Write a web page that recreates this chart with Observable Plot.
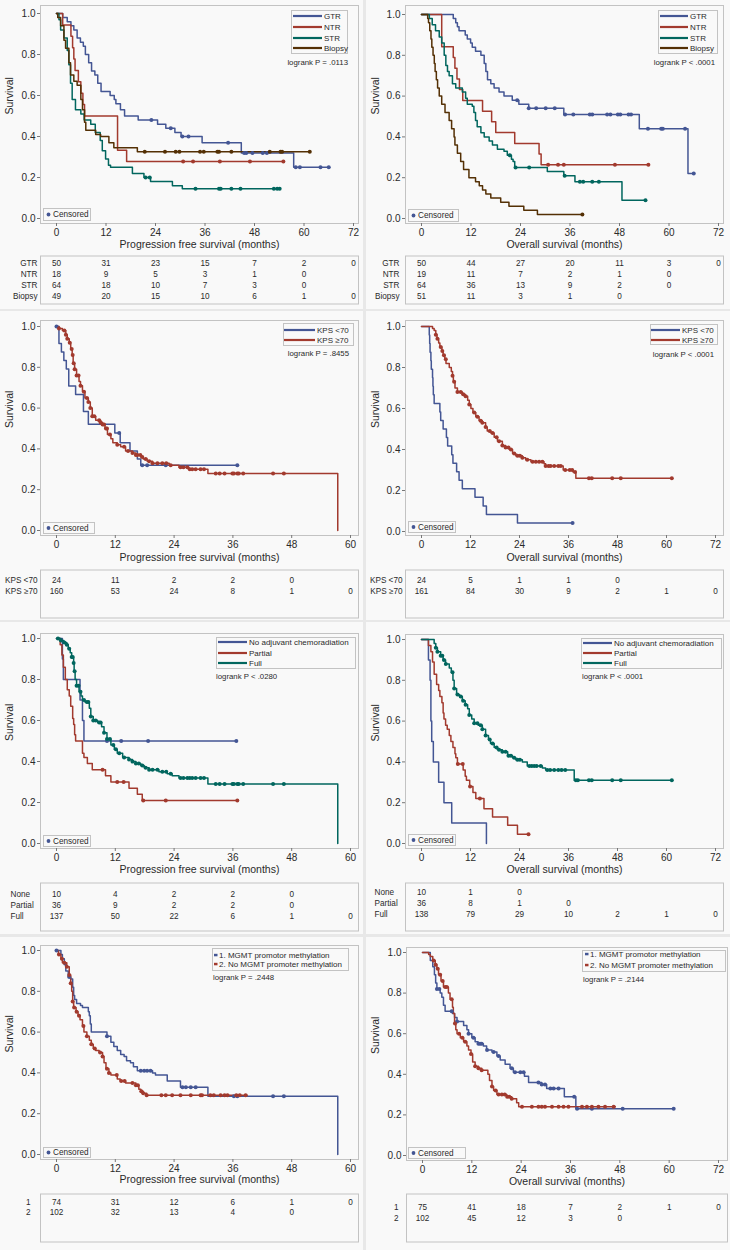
<!DOCTYPE html>
<html><head><meta charset="utf-8">
<script src="https://cdn.jsdelivr.net/npm/d3@7"></script>
<script src="https://cdn.jsdelivr.net/npm/@observablehq/plot@0.6"></script>
<style>
body{margin:0;background:#e8e8e8;font-family:"Liberation Sans",Arial,sans-serif;}
#root{position:relative;width:730px;height:1250px;overflow:hidden;}
#root svg{position:absolute;}
</style></head><body><div id="root"></div>
<script>
// ---------- tick / risk-table times ----------
const riskTimes72 = [0,12,24,36,48,60,72];
const riskTimes60 = [0,12,24,36,48,60];

// ---------- Panel 1: PFS by extent of resection ----------
const pfsResGTR = [[0,1],[1.5,.98],[2.6,.96],[3.5,.94],[4.2,.92],[5,.88],[5.8,.86],[6.5,.84],[7,.8],[7.8,.76],[8.5,.72],[9.3,.7],[10,.66],[10.8,.62],[13,.6],[14,.58],[14.4,.56],[15.5,.53],[16.5,.5],[19.8,.48],[24.5,.46],[26.5,.44],[28.7,.42],[30.2,.4],[35.3,.37],[44.8,.32],[57.5,.25],[66,.25]];
const pfsResGTRc = [23,27.7,30.5,32,41.6,45.5,46,47.5,50,51,58,59,64,66];
const pfsResNTR = [[0,1],[1.5,.944],[3.5,.889],[3.9,.833],[4.2,.778],[4.5,.722],[5.3,.667],[5.9,.611],[6.4,.556],[6.8,.5],[14.8,.333],[17,.278],[55,.278]];
const pfsResNTRc = [30.7,33.1,39.6,46.9,55];
const pfsResSTR = [[0,1],[.6,.97],[1,.92],[1.8,.88],[2.6,.82],[3,.75],[3.4,.66],[3.8,.58],[4.6,.53],[5.9,.51],[6.7,.48],[8.3,.46],[9.4,.42],[10.6,.38],[11.1,.33],[11.9,.29],[12.6,.26],[13.1,.25],[18.4,.22],[21.2,.2],[22.8,.18],[28.1,.16],[30.5,.145],[54.1,.145]];
const pfsResSTRc = [21.6,22.6,33.7,39.4,39.8,42.4,44.6,52.7,53.5,54.1];
const pfsResBiopsy = [[0,1],[.3,.98],[1,.94],[1.8,.87],[2.2,.83],[3,.76],[3.4,.7],[4.2,.67],[5,.65],[5.9,.58],[6.3,.53],[6.8,.47],[7.1,.43],[9.5,.41],[10.7,.4],[12.7,.37],[13.9,.345],[19.6,.326],[61.4,.326]];
const pfsResBiopsyc = [21.4,26.3,28.9,29.8,34.8,35.7,39,39.4,42.4,51.7,54.3,54.7,61.4];
const pfsResRiskGTR = [50,31,23,15,7,2,0];
const pfsResRiskNTR = [18,9,5,3,1,0];
const pfsResRiskSTR = [64,18,10,7,3,0];
const pfsResRiskBiopsy = [49,20,15,10,6,1,0];

// ---------- Panel 2: OS by extent of resection ----------
const osResGTR = [[0,1],[7.7,.98],[8.3,.96],[8.7,.94],[9.1,.92],[10.6,.9],[11.1,.88],[11.9,.86],[12.3,.84],[13.1,.82],[14.4,.8],[15.2,.76],[15.6,.72],[16,.68],[16.8,.66],[17.6,.64],[18.8,.62],[20,.6],[22,.58],[23.6,.56],[26,.54],[34.5,.51],[52.8,.44],[64.6,.22],[66,.22]];
const osResGTRc = [23.2,26,27.8,30.1,32.3,34.8,36.8,40.8,41.4,45,45.8,47.6,48.2,50.2,50.8,54.9,58.1,58.5,63.9,66];
const osResNTR = [[0,1],[4.9,.842],[7.7,.789],[8.1,.737],[8.6,.684],[9.2,.632],[10,.579],[14.8,.526],[17,.474],[18,.421],[22.6,.368],[28.5,.316],[29,.263],[55,.263]];
const osResNTRc = [30.7,33.1,34.5,46.9,55];
const osResSTR = [[0,1],[1.9,.98],[2.6,.95],[3.4,.92],[4.3,.89],[4.9,.86],[5.5,.8],[5.9,.75],[6.3,.72],[6.7,.7],[7.5,.66],[8.3,.64],[9.9,.62],[10.7,.59],[11.1,.56],[12.3,.55],[12.7,.52],[13.1,.48],[13.5,.45],[14.4,.42],[15.2,.4],[16.4,.38],[17.2,.36],[18.4,.34],[20,.33],[20.8,.31],[21.8,.29],[22.2,.28],[22.6,.25],[30.5,.23],[34.5,.21],[37.2,.18],[48.6,.09],[54.3,.09]];
const osResSTRc = [21.4,22.8,26.1,34.7,38.4,39.2,41.4,43,54.3];
const osResBiopsy = [[0,1],[1.5,.98],[1.7,.96],[2,.92],[2.3,.88],[2.5,.84],[2.8,.8],[3.1,.76],[3.3,.72],[3.6,.68],[3.9,.64],[4.3,.6],[4.9,.56],[5.7,.52],[6.7,.48],[7.3,.44],[7.9,.4],[8.1,.36],[8.7,.32],[9.5,.28],[10.2,.24],[11.5,.2],[13.1,.18],[14,.16],[14.8,.14],[15.6,.12],[16.8,.1],[19.2,.08],[21.2,.06],[24.8,.04],[28.1,.02],[39,.02]];
const osResBiopsyc = [39];
const osResRiskGTR = [50,44,27,20,11,3,0];
const osResRiskNTR = [19,11,7,2,1,0];
const osResRiskSTR = [64,36,13,9,2,0];
const osResRiskBiopsy = [51,11,3,1,0];

// ---------- Panel 3: PFS by KPS ----------
const pfsKpsLow = [[0,1],[.5,.917],[1,.875],[1.5,.833],[2,.792],[2.5,.708],[3.9,.667],[5.5,.583],[6.5,.521],[11.9,.478],[13,.43],[15,.39],[16.5,.35],[17.2,.32],[36.9,.32]];
const pfsKpsLowc = [0,12.8,17.5,18.5,22.3,36.9];
const pfsKpsHigh = [[0,1],[.5,.99],[1.2,.98],[1.9,.96],[2.2,.94],[2.6,.92],[2.9,.89],[3.2,.86],[3.4,.82],[3.7,.79],[4.1,.76],[4.6,.73],[4.9,.71],[5.3,.68],[5.8,.65],[6.5,.63],[6.9,.6],[7.3,.56],[8,.54],[9,.53],[9.4,.52],[9.9,.5],[10.4,.47],[11.1,.45],[11.5,.43],[12.4,.42],[13.1,.41],[14.1,.39],[15.5,.38],[16.2,.37],[17.2,.36],[17.7,.35],[18.5,.34],[19.6,.33],[23,.32],[25,.31],[27,.3],[30.9,.28],[57.4,0]];
const pfsKpsHighc = [.5,1.6,1.9,2.2,2.7,3.1,3.3,3.5,3.7,4.1,4.5,4.9,5.6,6.2,6.5,6.9,7.3,7.7,8.7,9,9.4,9.7,10.1,10.3,10.9,12.4,13.8,14.6,15.5,16.2,16.5,17.1,17.5,18.2,18.9,19.6,20.6,21.6,22.4,23.3,25.3,25.9,26.7,27.2,27.7,28.4,29.4,30.1,32.5,33.3,34.3,35.9,36.2,36.9,37.2,38.1,44.2,46.4];
const pfsKpsRiskLow = [24,11,2,2,0];
const pfsKpsRiskHigh = [160,53,24,8,1,0];

// ---------- Panel 4: OS by KPS ----------
const osKpsLow = [[0,1],[1.9,.958],[2,.917],[2.1,.875],[2.3,.833],[2.4,.792],[2.7,.75],[2.8,.708],[2.9,.667],[3.1,.625],[4.5,.583],[4.7,.542],[5.3,.5],[6.1,.458],[6.4,.417],[7.4,.375],[7.7,.333],[8.6,.292],[9.2,.25],[10,.208],[13.1,.167],[15.1,.125],[15.9,.083],[23.5,.042],[37,.042]];
const osKpsLowc = [37];
const osKpsHigh = [[0,1],[2.7,.99],[3.1,.98],[3.5,.96],[3.8,.94],[4.2,.92],[4.5,.9],[5,.88],[5.3,.86],[5.7,.84],[6,.82],[6.8,.8],[7.3,.78],[7.6,.76],[7.8,.73],[8.2,.7],[8.8,.68],[10,.67],[10.7,.66],[11.3,.64],[11.7,.62],[12.1,.6],[12.6,.58],[13.3,.56],[14.1,.54],[14.9,.53],[15.7,.51],[16.1,.49],[17,.48],[17.8,.46],[18.6,.44],[19.8,.42],[20.6,.41],[21.5,.4],[22.3,.38],[23.1,.37],[24.7,.36],[25.5,.35],[26.8,.34],[30,.33],[30.4,.32],[34.7,.3],[37.1,.29],[37.8,.26],[61.4,.26]];
const osKpsHighc = [3.5,3.9,4.7,5.1,5.5,5.95,7.6,8,8.8,9.6,10.2,10.8,11.7,12.9,13.7,14.5,14.9,15.7,16.7,17.4,18.4,19,19.8,20.6,21.3,21.9,22.7,23.5,24.1,24.7,25.9,27.2,28,28.8,29.6,30.4,31.1,31.6,32.5,33.5,34.1,35.2,36.3,36.9,37.6,41,41.7,46.7,48.8,61.3];
const osKpsRiskLow = [24,5,1,1,0];
const osKpsRiskHigh = [161,84,30,9,2,1,0];

// ---------- Panel 5: PFS by adjuvant chemoradiation ----------
const pfsAdjNone = [[0,1],[1.2,.9],[1.4,.8],[4.8,.7],[5.3,.6],[5.6,.5],[36.7,.5]];
const pfsAdjNonec = [10.3,13.2,18.7,36.7];
const pfsAdjPartial = [[0,1],[.75,.97],[1.1,.92],[1.4,.86],[1.8,.8],[2.2,.75],[2.6,.72],[2.9,.67],[3.3,.61],[3.5,.58],[3.7,.53],[3.9,.5],[5.3,.44],[5.6,.42],[6.3,.39],[7.3,.36],[10,.33],[11.1,.3],[14.8,.27],[16.5,.24],[17.5,.21],[36.9,.21]];
const pfsAdjPartialc = [9.4,12.4,13.7,17.7,22.3,36.9];
const pfsAdjFull = [[0,1],[.9,.99],[1.5,.98],[2.1,.97],[2.4,.95],[2.8,.93],[3.1,.91],[3.5,.88],[3.6,.84],[3.8,.8],[4.1,.77],[4.6,.74],[5,.72],[5.3,.7],[5.8,.69],[6.7,.66],[7,.62],[7.5,.6],[8.4,.59],[9.2,.57],[9.7,.54],[10.3,.51],[11.1,.48],[11.8,.46],[12.4,.44],[13.5,.42],[14.8,.41],[15.5,.4],[16.2,.39],[17.2,.38],[17.9,.37],[18.9,.36],[20.9,.35],[22.6,.34],[23.6,.33],[25,.32],[30.9,.29],[57.4,0]];
const pfsAdjFullc = [.3,.9,1.6,2.1,2.6,3.1,3.3,3.5,3.7,4.1,4.5,4.9,5.6,6.2,6.5,7,7.5,8,8.7,9,9.7,10.3,10.9,11.6,12.1,12.8,13.8,14.8,15.5,16.2,16.8,17.5,18.2,18.9,19.6,20.6,21.6,22.4,23.3,25.3,25.9,26.7,27.2,27.7,28.4,29.4,30.1,32.5,33.3,34.3,35.9,36.2,36.9,37.2,38.1,44.2,46.4];
const pfsAdjRiskNone = [10,4,2,2,0];
const pfsAdjRiskPartial = [36,9,2,2,0];
const pfsAdjRiskFull = [137,50,22,6,1,0];

// ---------- Panel 6: OS by adjuvant chemoradiation ----------
const osAdjNone = [[0,1],[1.7,.9],[2.1,.8],[2.3,.6],[2.5,.5],[2.9,.4],[4.2,.3],[5.5,.2],[7.4,.1],[15.9,0]];
const osAdjNonec = [];
const osAdjPartial = [[0,1],[1.7,.97],[2.3,.94],[2.7,.89],[3.1,.83],[3.7,.78],[4.2,.75],[4.5,.72],[5,.69],[5.3,.64],[5.5,.61],[5.9,.58],[6.3,.56],[6.8,.53],[7.2,.5],[7.7,.47],[8.2,.44],[8.4,.42],[8.8,.39],[10.2,.36],[10.7,.33],[11,.31],[11.8,.28],[12.6,.25],[13.3,.22],[15.3,.17],[17.4,.13],[21.1,.09],[23.5,.045],[26.2,.045]];
const osAdjPartialc = [8.9,10.1,11.9,14.3,26.2];
const osAdjFull = [[0,1],[3.1,.98],[3.5,.96],[3.9,.94],[4.7,.92],[5.3,.9],[5.9,.88],[6.8,.86],[7.3,.84],[7.7,.8],[8,.76],[8.6,.73],[9.3,.72],[10,.7],[10.7,.68],[11.3,.66],[11.7,.63],[12.3,.61],[12.9,.59],[13.9,.58],[14.9,.56],[15.7,.53],[16.4,.51],[16.9,.49],[17.8,.47],[18.6,.46],[19.8,.45],[21.1,.43],[22.3,.42],[23.1,.41],[24.7,.4],[25.9,.38],[29.6,.37],[30.4,.36],[37.4,.31],[61.3,.31]];
const osAdjFullc = [3.5,3.9,4.7,5.1,5.5,5.95,7.6,8,8.8,9.6,10.2,10.8,11.7,12.9,13.7,14.5,14.9,15.7,16.7,17.4,18.4,19,19.8,20.6,21.3,21.9,22.7,23.5,24.1,26.4,27,27.6,28.2,29.2,30.8,31.5,32.5,33.5,34.3,35.2,37.8,38.3,41,41.7,46.7,48.8,61.3];
const osAdjRiskNone = [10,1,0];
const osAdjRiskPartial = [36,8,1,0];
const osAdjRiskFull = [138,79,29,10,2,1,0];

// ---------- Panel 7: PFS by MGMT ----------
const pfsMgmtYes = [[0,1],[.9,.98],[1.2,.96],[1.6,.93],[1.9,.9],[2.4,.87],[2.9,.86],[3.3,.82],[3.5,.78],[3.7,.76],[4.1,.74],[4.9,.73],[5.3,.72],[6.5,.7],[6.7,.68],[6.9,.64],[7.1,.6],[10.3,.58],[11.1,.55],[11.7,.53],[12.4,.51],[13.1,.49],[13.8,.48],[14.3,.46],[15.1,.45],[15.7,.43],[16.5,.41],[19.6,.4],[20.2,.39],[22.6,.36],[25.3,.33],[30.9,.285],[57.4,0]];
const pfsMgmtYesc = [0,2.6,10.3,17.2,17.9,18.5,19.2,25.7,26.4,27.4,28.4,36.2,36.9,44.2,46.4];
const pfsMgmtNo = [[0,1],[.4,.98],[.9,.96],[1.2,.94],[2.1,.92],[2.6,.88],[2.9,.84],[3.1,.8],[3.3,.75],[3.5,.72],[4,.7],[4.4,.68],[4.8,.66],[5.3,.63],[5.6,.6],[6.2,.58],[6.7,.56],[7.1,.54],[7.5,.52],[8,.51],[8.7,.5],[9.4,.48],[9.7,.45],[10.1,.42],[10.7,.4],[11.1,.39],[12.4,.37],[13,.36],[14.1,.35],[16.2,.34],[16.8,.32],[17.2,.31],[17.7,.3],[18.4,.29],[38.9,.29]];
const pfsMgmtNoc = [.5,1.1,1.6,2.1,2.6,2.9,3.3,3.6,4.1,4.6,5.5,6.2,7.1,7.8,8.9,9.4,10.3,10.7,12.3,13.2,13.9,15.5,16.2,16.6,17.3,17.7,18.4,21.4,22.3,23.6,25.3,27.4,29.4,29.7,31.4,32.1,33.5,34.3,34.9,36.7,37.4,38.6];
const pfsMgmtRiskYes = [74,31,12,6,1,0];
const pfsMgmtRiskNo = [102,32,13,4,0];

// ---------- Panel 8: OS by MGMT ----------
const osMgmtYes = [[0,1],[1.9,.96],[2.5,.93],[2.9,.89],[3.2,.85],[3.5,.82],[4.3,.8],[4.7,.78],[5.1,.74],[5.5,.71],[7.3,.7],[7.8,.68],[8.4,.66],[10,.64],[10.8,.62],[11.2,.6],[12,.58],[12.8,.56],[13.5,.55],[14.8,.54],[15.6,.52],[16.9,.51],[18.1,.49],[18.9,.47],[20.1,.45],[21.3,.43],[22.1,.41],[24.8,.39],[25.8,.36],[29,.35],[30.2,.33],[34.5,.29],[37.3,.23],[61.1,.23]];
const osMgmtYesc = [3.5,4.1,7.1,8.4,11.2,12.4,13.6,14,14.4,15.7,17.3,18.5,21.7,22.5,23.8,24.6,28.2,29,29.8,31.1,31.9,33.1,36.9,37.6,41.2,48.7,61.1];
const osMgmtNo = [[0,1],[1.5,.99],[1.9,.98],[2.5,.96],[3.1,.94],[3.5,.92],[3.9,.89],[4.5,.86],[5.1,.83],[6.3,.8],[6.7,.77],[7.3,.73],[7.5,.7],[7.8,.65],[8.1,.62],[8.4,.6],[9.2,.58],[10,.56],[10.8,.54],[11.2,.52],[11.8,.5],[12.2,.46],[12.8,.44],[13.6,.43],[14.4,.42],[15.9,.4],[16.3,.37],[16.9,.34],[17.3,.32],[18.1,.3],[20.5,.29],[21.7,.28],[22.9,.26],[23.4,.24],[46.9,.24]];
const osMgmtNoc = [2.7,3.2,3.7,4.3,4.9,5.5,5.9,7.1,7.9,8.9,9.7,10.4,11.8,12.8,13.6,14.4,16.9,17.8,18.5,19.3,20,20.6,21.1,21.7,24.2,26.6,28.2,29,29.8,31.5,33.1,34.3,35.5,38.8,40,41.2,42.8,44.4,46.5];
const osMgmtRiskYes = [75,41,18,7,2,1,0];
const osMgmtRiskNo = [102,45,12,3,0];

// ---------- styling ----------
const BLUE = "#445694", RED = "#A23A2E", GREEN = "#01665E", BROWN = "#543005";
const TXT = "#2a2a2a", FRAME = "#c3c3c3", FONT = '"Liberation Sans", Arial, sans-serif';

function stepAt(curve, t) {
  let s = curve[0][1];
  for (const [ti, si] of curve) { if (ti <= t) s = si; else break; }
  return s;
}

const root = document.getElementById("root");
const bg = d3.select(root).append("svg").attr("width", 730).attr("height", 1250).style("left", "0px").style("top", "0px");
const cellsX = [[0, 363], [366, 730]];
const cellsY = [[0, 309], [311, 620], [622, 934], [937, 1250]];
for (const [y0, y1] of cellsY) for (const [x0, x1] of cellsX)
  bg.append("rect").attr("x", x0).attr("y", y0).attr("width", x1 - x0).attr("height", y1 - y0).attr("fill", "#f9f9f9");

const overlays = [];

function drawPanel(p) {
  const c = p.cell, f = p.frame;
  const H = p.titleY - c.y + 9;
  const xRange = [p.xr[0] - c.x, p.xr[1] - c.x];
  const marks = [
    Plot.frame({stroke: FRAME}),
    Plot.axisX({ticks: d3.range(0, p.xmax + 1, 12), tickSize: 3, tickPadding: 2, fontSize: 10, label: null, stroke: "#777", fill: TXT}),
    Plot.axisY({ticks: [0, .2, .4, .6, .8, 1], tickFormat: d3.format(".1f"), tickSize: 3, tickPadding: 2, fontSize: 10, label: null, stroke: "#777", fill: TXT}),
    Plot.text([p.xTitle], {frameAnchor: "bottom", dy: p.titleY - f.b, fontSize: 10.5, fill: TXT}),
    Plot.text(["Survival"], {frameAnchor: "left", dx: c.x + 9.5 - f.l, rotate: -90, fontSize: 10.5, fill: TXT})
  ];
  for (const s of p.series)
    marks.push(Plot.line(s.curve, {x: d => d[0], y: d => d[1], curve: "step-after", stroke: s.color, strokeWidth: 1.5}));
  for (const s of p.series)
    marks.push(Plot.dot(s.cens, {x: d => d, y: d => stepAt(s.curve, d), r: 2, fill: s.color, stroke: "none"}));
  const chart = Plot.plot({
    width: c.w, height: H,
    marginLeft: f.l - c.x, marginRight: c.x + c.w - f.r,
    marginTop: f.t - c.y, marginBottom: H - (f.b - c.y),
    x: {domain: [0, p.xmax], range: xRange},
    y: {domain: [0, 1], range: [p.yr[0] - c.y, p.yr[1] - c.y]},
    style: {background: "transparent", fontFamily: FONT, overflow: "visible"},
    marks
  });
  chart.style.left = c.x + "px"; chart.style.top = c.y + "px";
  root.appendChild(chart);

  // risk table
  const tb = p.table;
  const labels = tb.rows.map(r => r.label);
  const cells = [];
  tb.rows.forEach(r => r.values.forEach((v, i) => cells.push({row: r.label, t: tb.times[i], n: v})));
  const table = Plot.plot({
    width: c.w, height: tb.b - tb.t,
    marginLeft: f.l - c.x, marginRight: c.x + c.w - f.r, marginTop: 0.5, marginBottom: 0.5,
    x: {domain: [0, p.xmax], range: xRange, axis: null},
    y: {type: "point", domain: labels, range: [tb.rowsY[0] - tb.t, tb.rowsY[1] - tb.t], padding: 0, axis: null},
    style: {background: "transparent", fontFamily: FONT, overflow: "visible"},
    marks: [
      Plot.frame({stroke: FRAME}),
      Plot.text(cells, {x: "t", y: "row", text: "n", fontSize: 8.2, fill: TXT}),
      Plot.text(labels, {y: d => d, frameAnchor: "left", dx: tb.labelX - f.l, textAnchor: tb.anchor, fontSize: 8.2, fill: TXT})
    ]
  });
  table.style.left = c.x + "px"; table.style.top = tb.t + "px";
  root.appendChild(table);
  overlays.push(p);
}

function drawOverlay(p) {
  const ov = d3.select(root).append("svg").attr("width", 730).attr("height", 1250)
    .style("left", "0px").style("top", "0px").attr("font-family", FONT).attr("fill", TXT);
  const L = p.legend;
  ov.append("rect").attr("x", L.box[0] + .5).attr("y", L.box[1] + .5)
    .attr("width", L.box[2] - L.box[0]).attr("height", L.box[3] - L.box[1])
    .attr("fill", "#f9f9f9").attr("stroke", FRAME);
  p.series.forEach((s, i) => {
    const y = L.rows[i];
    if (L.marker) {
      ov.append("rect").attr("x", L.marker).attr("y", y - 1.2).attr("width", 3.5).attr("height", 2.5).attr("fill", s.color);
    } else {
      ov.append("line").attr("x1", L.sw[0]).attr("x2", L.sw[1]).attr("y1", y).attr("y2", y)
        .attr("stroke", s.color).attr("stroke-width", 2.2);
    }
    ov.append("text").attr("x", L.labelX).attr("y", y).attr("dy", "0.36em").attr("font-size", 8).text(s.label);
  });
  const lr = p.logrank;
  ov.append("text").attr("x", lr.x).attr("y", lr.y).attr("dy", "0.36em").attr("font-size", 7.8)
    .attr("text-anchor", lr.anchor).text(lr.text);
  const cb = p.cens;
  ov.append("rect").attr("x", cb[0] + .5).attr("y", cb[1] + .5).attr("width", cb[2] - cb[0]).attr("height", cb[3] - cb[1])
    .attr("fill", "#f9f9f9").attr("stroke", FRAME);
  const cy = (cb[1] + cb[3]) / 2 + .5;
  ov.append("circle").attr("cx", cb[0] + 5.5).attr("cy", cy).attr("r", 1.9).attr("fill", BLUE);
  ov.append("text").attr("x", cb[0] + 10).attr("y", cy).attr("dy", "0.36em").attr("font-size", 8.2).text("Censored");
}

const PFS = "Progression free survival (months)", OS = "Overall survival (months)";
const CL = {x: 0, w: 363}, CR = {x: 366, w: 364};

drawPanel({
  cell: {...CL, y: 0}, frame: {l: 40, r: 358, t: 5, b: 223}, xr: [56, 353], yr: [218, 13], xmax: 72,
  xTitle: PFS, titleY: 247,
  series: [
    {curve: pfsResGTR, cens: pfsResGTRc, color: BLUE, label: "GTR"},
    {curve: pfsResNTR, cens: pfsResNTRc, color: RED, label: "NTR"},
    {curve: pfsResSTR, cens: pfsResSTRc, color: GREEN, label: "STR"},
    {curve: pfsResBiopsy, cens: pfsResBiopsyc, color: BROWN, label: "Biopsy"}],
  table: {t: 255, b: 304, rowsY: [262, 297], labelX: 37, anchor: "end", times: riskTimes72,
    rows: [{label: "GTR", values: pfsResRiskGTR}, {label: "NTR", values: pfsResRiskNTR}, {label: "STR", values: pfsResRiskSTR}, {label: "Biopsy", values: pfsResRiskBiopsy}]},
  legend: {box: [291, 10, 347, 53], rows: [16, 27, 38, 48], sw: [293, 322], labelX: 324},
  logrank: {text: "logrank P = .0113", x: 348, y: 62, anchor: "end"},
  cens: [43, 208, 90, 220]
});

drawPanel({
  cell: {...CR, y: 0}, frame: {l: 405, r: 723, t: 5, b: 223}, xr: [421, 718], yr: [218, 14], xmax: 72,
  xTitle: OS, titleY: 247,
  series: [
    {curve: osResGTR, cens: osResGTRc, color: BLUE, label: "GTR"},
    {curve: osResNTR, cens: osResNTRc, color: RED, label: "NTR"},
    {curve: osResSTR, cens: osResSTRc, color: GREEN, label: "STR"},
    {curve: osResBiopsy, cens: osResBiopsyc, color: BROWN, label: "Biopsy"}],
  table: {t: 255, b: 304, rowsY: [262, 297], labelX: 399, anchor: "end", times: riskTimes72,
    rows: [{label: "GTR", values: osResRiskGTR}, {label: "NTR", values: osResRiskNTR}, {label: "STR", values: osResRiskSTR}, {label: "Biopsy", values: osResRiskBiopsy}]},
  legend: {box: [658, 10, 717, 53], rows: [16, 27, 38, 48], sw: [660, 688], labelX: 690},
  logrank: {text: "logrank P < .0001", x: 715, y: 62, anchor: "end"},
  cens: [408, 209, 458, 221]
});

drawPanel({
  cell: {...CL, y: 311}, frame: {l: 40, r: 358, t: 320, b: 535}, xr: [56, 350], yr: [530, 326], xmax: 60,
  xTitle: PFS, titleY: 560,
  series: [
    {curve: pfsKpsLow, cens: pfsKpsLowc, color: BLUE, label: "KPS <70"},
    {curve: pfsKpsHigh, cens: pfsKpsHighc, color: RED, label: "KPS ≥70"}],
  table: {t: 569, b: 618, rowsY: [580, 591], labelX: 37, anchor: "end", times: riskTimes60,
    rows: [{label: "KPS <70", values: pfsKpsRiskLow}, {label: "KPS ≥70", values: pfsKpsRiskHigh}]},
  legend: {box: [283, 323, 353, 345], rows: [330, 340], sw: [284, 315], labelX: 317},
  logrank: {text: "logrank P = .8455", x: 349, y: 353, anchor: "end"},
  cens: [43, 522, 94, 533]
});

drawPanel({
  cell: {...CR, y: 311}, frame: {l: 405, r: 723, t: 320, b: 535}, xr: [421, 715], yr: [531, 326], xmax: 72,
  xTitle: OS, titleY: 560,
  series: [
    {curve: osKpsLow, cens: osKpsLowc, color: BLUE, label: "KPS <70"},
    {curve: osKpsHigh, cens: osKpsHighc, color: RED, label: "KPS ≥70"}],
  table: {t: 569, b: 618, rowsY: [580, 591], labelX: 402, anchor: "end", times: riskTimes72,
    rows: [{label: "KPS <70", values: osKpsRiskLow}, {label: "KPS ≥70", values: osKpsRiskHigh}]},
  legend: {box: [650, 324, 717, 344], rows: [330, 340], sw: [651, 680], labelX: 682},
  logrank: {text: "logrank P < .0001", x: 714, y: 354, anchor: "end"},
  cens: [408, 521, 455, 532]
});

drawPanel({
  cell: {...CL, y: 622}, frame: {l: 40, r: 358, t: 633, b: 848}, xr: [56, 350], yr: [843, 638], xmax: 60,
  xTitle: PFS, titleY: 872,
  series: [
    {curve: pfsAdjNone, cens: pfsAdjNonec, color: BLUE, label: "No adjuvant chemoradiation"},
    {curve: pfsAdjPartial, cens: pfsAdjPartialc, color: RED, label: "Partial"},
    {curve: pfsAdjFull, cens: pfsAdjFullc, color: GREEN, label: "Full"}],
  table: {t: 882, b: 931, rowsY: [894, 916], labelX: 10, anchor: "start", times: riskTimes60,
    rows: [{label: "None", values: pfsAdjRiskNone}, {label: "Partial", values: pfsAdjRiskPartial}, {label: "Full", values: pfsAdjRiskFull}]},
  legend: {box: [216, 637, 355, 668], rows: [642, 653, 663], sw: [218, 247], labelX: 249},
  logrank: {text: "logrank P < .0280", x: 216, y: 676, anchor: "start"},
  cens: [43, 835, 90, 846]
});

drawPanel({
  cell: {...CR, y: 622}, frame: {l: 405, r: 723, t: 634, b: 848}, xr: [421, 715], yr: [843, 639], xmax: 72,
  xTitle: OS, titleY: 872,
  series: [
    {curve: osAdjNone, cens: osAdjNonec, color: BLUE, label: "No adjuvant chemoradiation"},
    {curve: osAdjPartial, cens: osAdjPartialc, color: RED, label: "Partial"},
    {curve: osAdjFull, cens: osAdjFullc, color: GREEN, label: "Full"}],
  table: {t: 882, b: 931, rowsY: [891, 914], labelX: 374, anchor: "start", times: riskTimes72,
    rows: [{label: "None", values: osAdjRiskNone}, {label: "Partial", values: osAdjRiskPartial}, {label: "Full", values: osAdjRiskFull}]},
  legend: {box: [581, 638, 721, 668], rows: [643, 653, 663], sw: [583, 612], labelX: 614},
  logrank: {text: "logrank P < .0001", x: 582, y: 676, anchor: "start"},
  cens: [408, 834, 455, 845]
});

drawPanel({
  cell: {...CL, y: 937}, frame: {l: 40, r: 358, t: 945, b: 1159}, xr: [56, 350], yr: [1154, 950], xmax: 60,
  xTitle: PFS, titleY: 1182,
  series: [
    {curve: pfsMgmtYes, cens: pfsMgmtYesc, color: BLUE, label: "1. MGMT promotor methylation"},
    {curve: pfsMgmtNo, cens: pfsMgmtNoc, color: RED, label: "2. No MGMT promoter methylation"}],
  table: {t: 1193, b: 1242, rowsY: [1202, 1212], labelX: 30, anchor: "end", times: riskTimes60,
    rows: [{label: "1", values: pfsMgmtRiskYes}, {label: "2", values: pfsMgmtRiskNo}]},
  legend: {box: [212, 948, 348, 970], rows: [955, 964], marker: 214, labelX: 219},
  logrank: {text: "logrank P = .2448", x: 213, y: 977, anchor: "start"},
  cens: [43, 1147, 90, 1157]
});

drawPanel({
  cell: {...CR, y: 937}, frame: {l: 406, r: 727, t: 947, b: 1160}, xr: [422, 718], yr: [1155, 952], xmax: 72,
  xTitle: OS, titleY: 1184,
  series: [
    {curve: osMgmtYes, cens: osMgmtYesc, color: BLUE, label: "1. MGMT promotor methylation"},
    {curve: osMgmtNo, cens: osMgmtNoc, color: RED, label: "2. No MGMT promoter methylation"}],
  table: {t: 1193, b: 1242, rowsY: [1207, 1218], labelX: 398, anchor: "end", times: riskTimes72,
    rows: [{label: "1", values: osMgmtRiskYes}, {label: "2", values: osMgmtRiskNo}]},
  legend: {box: [582, 950, 725, 971], rows: [954, 965], marker: 585, labelX: 590},
  logrank: {text: "logrank P = .2144", x: 583, y: 979, anchor: "start"},
  cens: [408, 1147, 465, 1158]
});

overlays.forEach(drawOverlay);
</script></body></html>
